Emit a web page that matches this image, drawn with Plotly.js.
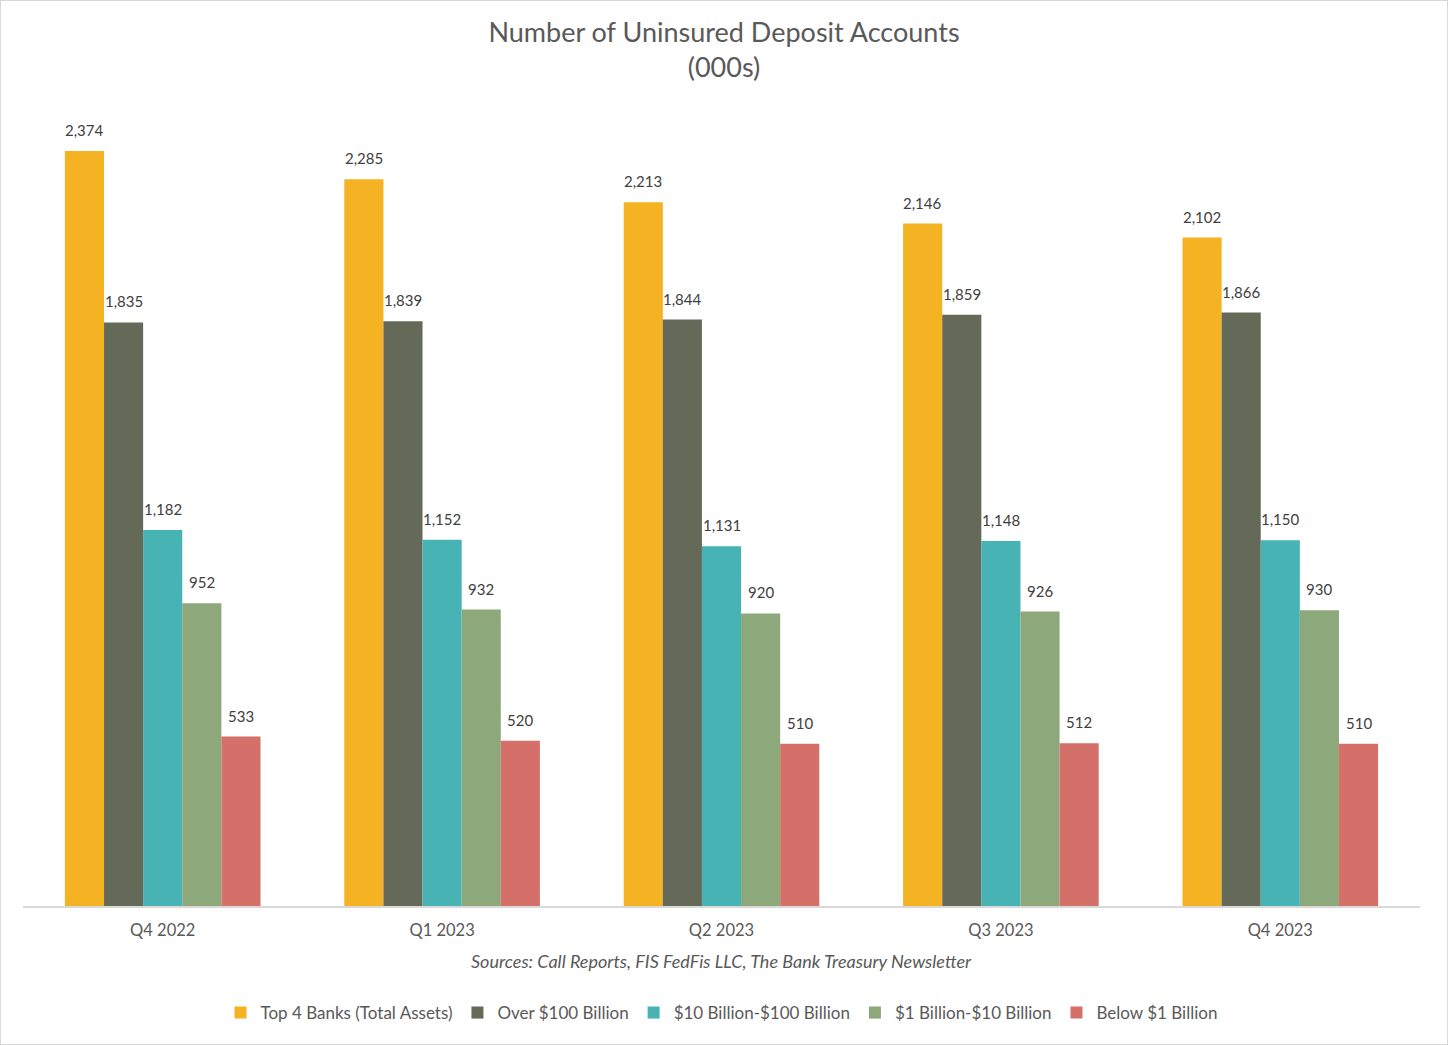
<!DOCTYPE html>
<html>
<head>
<meta charset="utf-8">
<script src="https://cdn.plot.ly/plotly-3.0.1.min.js"></script>
<style>
html,body{margin:0;padding:0;background:#fff;}
#chart{width:1446px;height:1043px;border:1px solid #d9d9d9;}
</style>
</head>
<body>
<div id="chart"></div>
<script>
const quarters = ["Q4 2022", "Q1 2023", "Q2 2023", "Q3 2023", "Q4 2023"];
const seriesNames = ["Top 4 Banks (Total Assets)", "Over $100 Billion", "$10 Billion-$100 Billion", "$1 Billion-$10 Billion", "Below $1 Billion"];
const top4 = [2374, 2285, 2213, 2146, 2102];
const over100 = [1835, 1839, 1844, 1859, 1866];
const b10to100 = [1182, 1152, 1131, 1148, 1150];
const b1to10 = [952, 932, 920, 926, 930];
const below1 = [533, 520, 510, 512, 510];
const colors = ["#F5B223", "#656A58", "#47B3B5", "#8DA87B", "#D56F69"];

const values = [top4, over100, b10to100, b1to10, below1];
const fontFam = "Lato, 'Open Sans', sans-serif";

const W = 1446, H = 1043;
const margin = {l: 22, r: 27, t: 110, b: 138};
const bargap = 0.30;
const plotW = W - margin.l - margin.r;
const barW = plotW / quarters.length * (1 - bargap) / values.length;

const traces = values.map((v, i) => ({
  type: "bar",
  name: seriesNames[i],
  x: quarters,
  y: v,
  marker: {color: colors[i]},
  hoverinfo: "x+y+name"
}));

const labelAnns = [];
values.forEach((v, i) => {
  v.forEach((n, j) => {
    labelAnns.push({
      x: quarters[j], y: n, xref: "x", yref: "y",
      text: n.toLocaleString("en-US"),
      showarrow: false,
      xanchor: "center", yanchor: "bottom",
      xshift: (i - (values.length - 1) / 2) * barW,
      yshift: 10,
      font: {family: fontFam, size: 15, color: "#404040"}
    });
  });
});

const layout = {
  width: W,
  height: H,
  margin: margin,
  paper_bgcolor: "#ffffff",
  plot_bgcolor: "#ffffff",
  font: {family: fontFam, color: "#595959"},
  title: {
    text: "Number of Uninsured Deposit Accounts<br>(000s)",
    font: {family: fontFam, size: 27, color: "#595959"},
    x: 0.5, xanchor: "center",
    yref: "container",
    y: 0.961, yanchor: "middle"
  },
  barmode: "group",
  bargap: bargap,
  bargroupgap: 0,
  xaxis: {
    type: "category",
    showgrid: false,
    showline: true,
    linecolor: "#d9d9d9",
    linewidth: 1.5,
    ticks: "",
    ticklabelstandoff: 8,
    tickfont: {family: fontFam, size: 16.5, color: "#595959"},
    zeroline: false
  },
  yaxis: {
    range: [0, 2500],
    visible: false,
    showgrid: false,
    zeroline: false
  },
  showlegend: true,
  legend: {
    orientation: "h",
    x: 0.5, xanchor: "center",
    y: -0.112, yanchor: "top",
    font: {family: fontFam, size: 17, color: "#595959"},
    itemwidth: 30,
    traceorder: "normal"
  },
  annotations: labelAnns.concat([{
    text: "<i>Sources: Call Reports, FIS FedFis LLC, The Bank Treasury Newsletter</i>",
    xref: "paper", yref: "paper",
    x: 0.5, y: -0.053, xanchor: "center", yanchor: "top",
    showarrow: false,
    font: {family: fontFam, size: 18, color: "#595959"}
  }])
};

Plotly.newPlot("chart", traces, layout, {displayModeBar: false, responsive: false});
</script>
</body>
</html>
